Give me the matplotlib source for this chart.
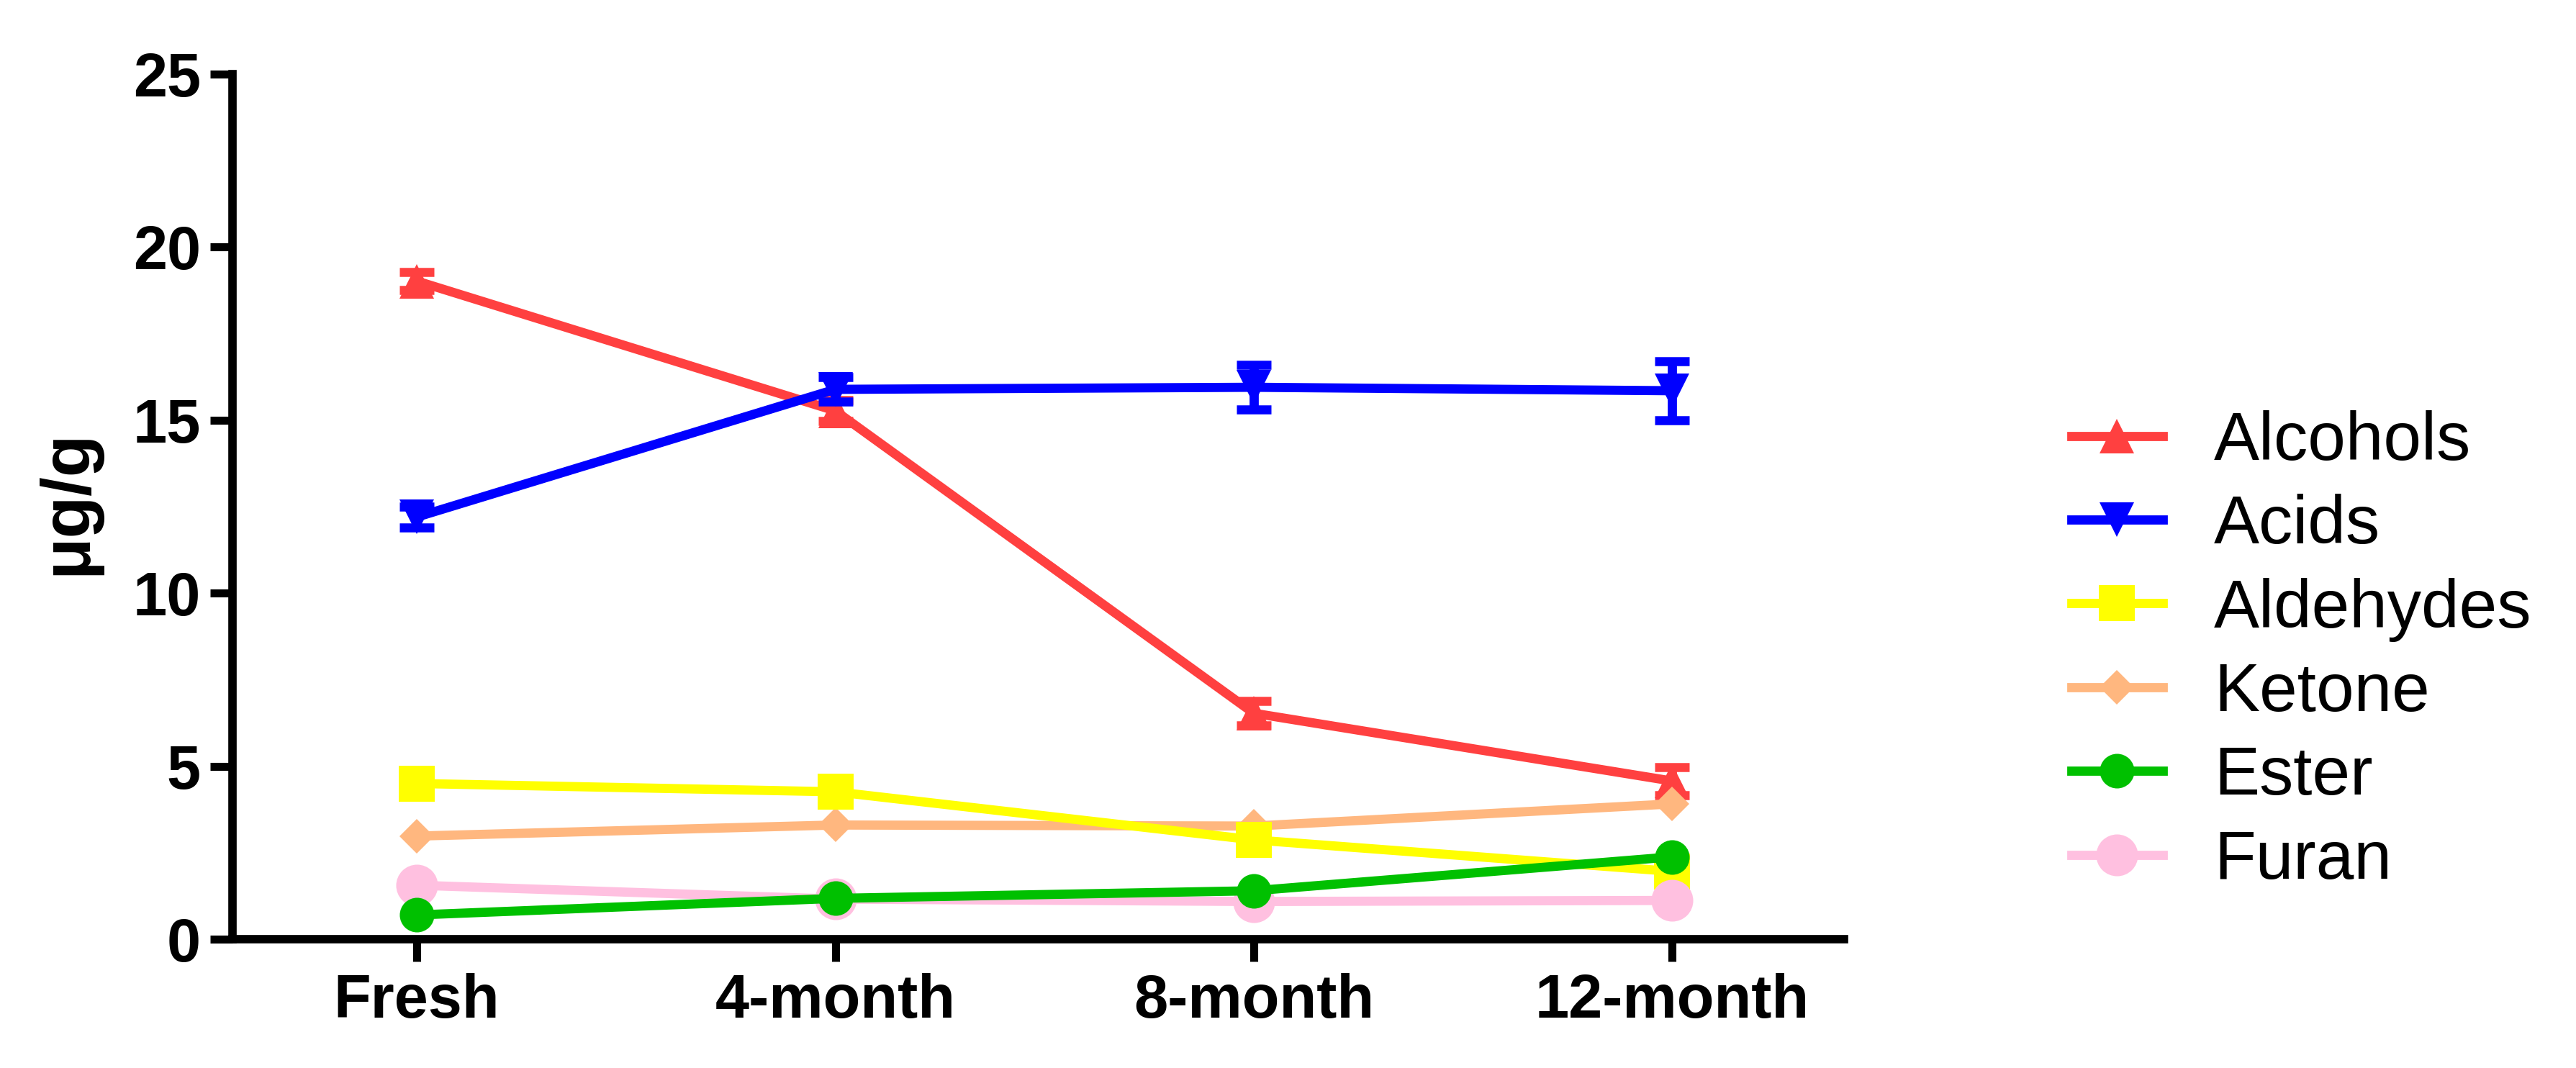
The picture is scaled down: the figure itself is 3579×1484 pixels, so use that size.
import matplotlib.pyplot as plt

plt.rcParams['font.family'] = ['Liberation Sans', 'DejaVu Sans']

stages = ['Fresh', '4-month', '8-month', '12-month']

alcohols = [19.02, 15.27, 6.53, 4.57]
alcohols_err = [0.25, 0.3, 0.35, 0.4]
acids = [12.2, 15.89, 15.95, 15.85]
acids_err = [0.3, 0.35, 0.65, 0.85]
aldehydes = [4.5, 4.26, 2.87, 1.96]
ketone = [2.98, 3.3, 3.27, 3.91]
ester = [0.7, 1.18, 1.4, 2.38]
furan = [1.56, 1.16, 1.09, 1.12]

c_alc = '#FF4040'
c_acid = '#0000FF'
c_ald = '#FFFF00'
c_ket = '#FFB77F'
c_est = '#00C000'
c_fur = '#FFC0E0'

fig = plt.figure(figsize=(3579 / 200, 1484 / 200), dpi=200)
ax = fig.add_axes([0.0903, 0.1206, 0.6255, 0.81])

x = range(len(stages))
lw = 4.6

# error bars first, then the lines with markers
ax.errorbar(x, alcohols, yerr=alcohols_err, fmt='none', ecolor=c_alc,
            elinewidth=lw, capsize=8.6, capthick=4.5, zorder=2)
ax.errorbar(x, acids, yerr=acids_err, fmt='none', ecolor=c_acid,
            elinewidth=lw, capsize=8.6, capthick=4.5, zorder=3)

ax.plot(x, alcohols, color=c_alc, lw=lw, marker='^', ms=17.6, mew=0, label='Alcohols', zorder=2)
ax.plot(x, acids, color=c_acid, lw=lw, marker='v', ms=17.6, mew=0, label='Acids', zorder=3)
ax.plot(x, aldehydes, color=c_ald, lw=lw, marker='s', ms=18, mew=0, label='Aldehydes', zorder=5)
ax.plot(x, ketone, color=c_ket, lw=lw, marker='D', ms=12.3, mew=0, label='Ketone', zorder=4)
ax.plot(x, ester, color=c_est, lw=lw, marker='o', ms=17.3, mew=0, label='Ester', zorder=7)
ax.plot(x, furan, color=c_fur, lw=lw, marker='o', ms=20.9, mew=0, label='Furan', zorder=6)

ax.set_xlim(-0.44, 3.41)
ax.set_ylim(0, 25)
ax.set_yticks([0, 5, 10, 15, 20, 25])
ax.set_xticks(list(x))
ax.set_xticklabels(stages)

for s in ['top', 'right']:
    ax.spines[s].set_visible(False)
for s in ['left', 'bottom']:
    ax.spines[s].set_linewidth(4.2)

ax.tick_params(axis='both', direction='out', length=11.2, width=4, labelsize=30.5)
ax.tick_params(axis='x', pad=5.8)
ax.tick_params(axis='y', pad=4.7)
for lab in ax.get_xticklabels() + ax.get_yticklabels():
    lab.set_fontweight('bold')

ax.set_ylabel('μg/g', fontsize=34.5, fontweight='bold')
ax.yaxis.set_label_coords(-0.082, 0.505)

ax.legend(loc='center left', bbox_to_anchor=(0.804, 0.39), bbox_transform=fig.transFigure,
          frameon=False, fontsize=34, handlelength=1.35, handletextpad=0.75,
          labelspacing=0.29, borderpad=0, borderaxespad=0)

fig.savefig('out.png', dpi=200)
